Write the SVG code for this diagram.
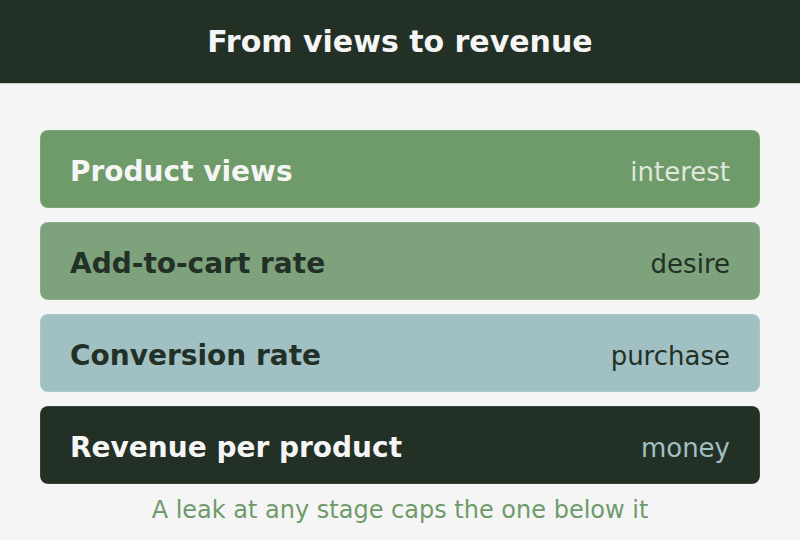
<svg xmlns="http://www.w3.org/2000/svg" width="800" height="540" viewBox="0 0 800 540">
<style>
.bar{stroke:#ffffff;stroke-opacity:0.2;stroke-width:1}
.lbl{font-family:"DejaVu Sans",sans-serif;font-weight:bold;font-size:28px}
.tag{font-family:"DejaVu Sans",sans-serif;font-size:26px;text-anchor:end}
</style>
<rect width="800" height="540" fill="#f5f5f5"/>
<g id="header">
<rect x="0" y="0" width="800" height="83" fill="#223026"/>
<line x1="0" y1="83.5" x2="800" y2="83.5" stroke="#c9ccc9" stroke-width="1"/>
<text x="400" y="52" text-anchor="middle" font-family="DejaVu Sans, sans-serif" font-weight="bold" font-size="30" fill="#f5f5f5">From views to revenue</text>
</g>
<g id="connectors"></g>
<g id="views">
<rect class="bar" x="40" y="130" width="720" height="78" rx="8" fill="#6f9a6a"/>
<text class="lbl" x="70" y="180.5" fill="#f5f5f5">Product views</text>
<text class="tag" x="730" y="180.5" fill="#dfe8dd">interest</text>
</g>
<g id="cart">
<rect class="bar" x="40" y="222" width="720" height="78" rx="8" fill="#7da27c"/>
<text class="lbl" x="70" y="272.5" fill="#223026">Add-to-cart rate</text>
<text class="tag" x="730" y="272.5" fill="#223026">desire</text>
</g>
<g id="conversion">
<rect class="bar" x="40" y="314" width="720" height="78" rx="8" fill="#a0c0c3"/>
<text class="lbl" x="70" y="364.5" fill="#223026">Conversion rate</text>
<text class="tag" x="730" y="364.5" fill="#223026">purchase</text>
</g>
<g id="revenue">
<rect class="bar" x="40" y="406" width="720" height="78" rx="8" fill="#223026"/>
<text class="lbl" x="70" y="456.5" fill="#f5f5f5">Revenue per product</text>
<text class="tag" x="730" y="456.5" fill="#a0c0c3">money</text>
</g>
<text x="400" y="518" text-anchor="middle" font-family="DejaVu Sans, sans-serif" font-size="24" fill="#6f9a6a">A leak at any stage caps the one below it</text>
</svg>
